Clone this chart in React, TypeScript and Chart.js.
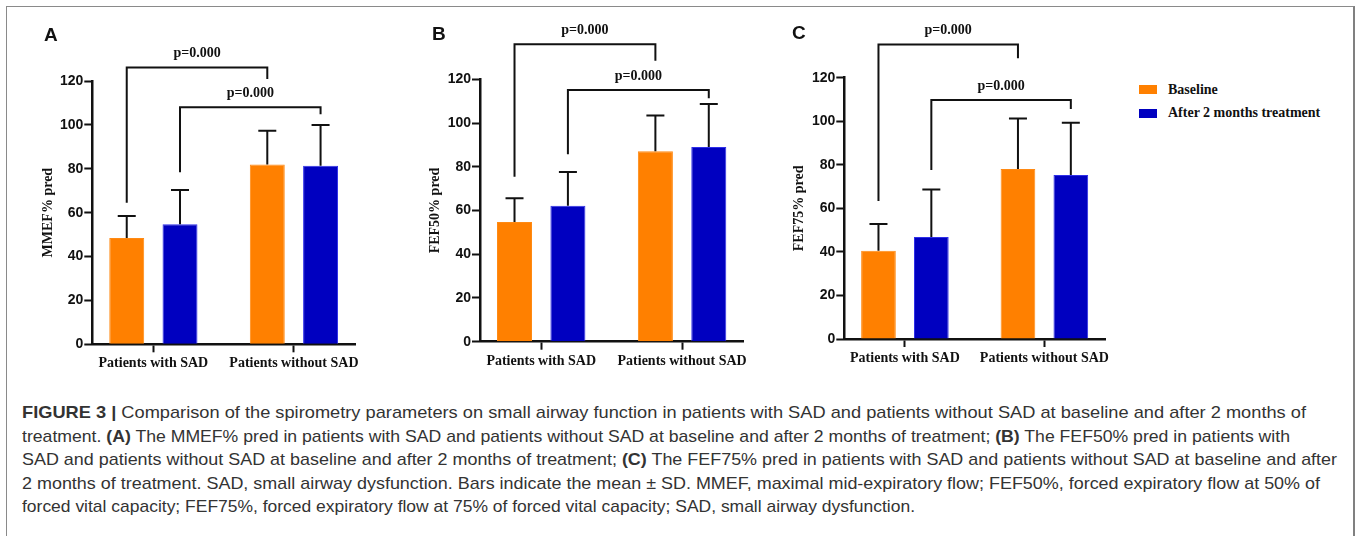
import React, { useEffect, useLayoutEffect, useRef } from 'react';
import { Chart, registerables } from 'chart.js';

Chart.register(...registerables);

// ---------------- data ----------------
const categories = ['Patients with SAD', 'Patients without SAD'];
const seriesLabels = ['Baseline', 'After 2 months treatment'];
const seriesColors = ['#FF8000', '#0000C0'];
const seriesBorders = ['#FF8A14', '#2F2FE8'];
const yTickValues = [0, 20, 40, 60, 80, 100, 120];
const pValueLabel = 'p=0.000';

const mmefBaseline = [48.5, 82.0];
const mmefBaselineSD = [10.0, 15.3];
const mmefTreated = [54.7, 81.4];
const mmefTreatedSD = [15.6, 18.5];
const mmefBracketLevels = [126.2, 108.0];
const mmefBracketLeftEnds = [64.5, 78.4];
const mmefBracketRightEnds = [120.9, 104.8];

const fef50Baseline = [54.7, 87.1];
const fef50BaselineSD = [10.9, 16.4];
const fef50Treated = [62.2, 89.0];
const fef50TreatedSD = [15.4, 19.7];
const fef50BracketLevels = [136.0, 115.1];
const fef50BracketLeftEnds = [75.4, 85.7];
const fef50BracketRightEnds = [128.5, 111.3];

const fef75Baseline = [40.5, 78.1];
const fef75BaselineSD = [12.3, 23.2];
const fef75Treated = [46.8, 75.3];
const fef75TreatedSD = [21.9, 24.0];
const fef75BracketLevels = [135.2, 109.8];
const fef75BracketLeftEnds = [63.4, 77.6];
const fef75BracketRightEnds = [128.9, 105.6];

const captionLines = [
  [{ b: true, t: 'FIGURE 3 |' }, { b: false, t: ' Comparison of the spirometry parameters on small airway function in patients with SAD and patients without SAD at baseline and after 2 months of' }],
  [{ b: false, t: 'treatment. ' }, { b: true, t: '(A)' }, { b: false, t: ' The MMEF% pred in patients with SAD and patients without SAD at baseline and after 2 months of treatment; ' }, { b: true, t: '(B)' }, { b: false, t: ' The FEF50% pred in patients with' }],
  [{ b: false, t: 'SAD and patients without SAD at baseline and after 2 months of treatment; ' }, { b: true, t: '(C)' }, { b: false, t: ' The FEF75% pred in patients with SAD and patients without SAD at baseline and after' }],
  [{ b: false, t: '2 months of treatment. SAD, small airway dysfunction. Bars indicate the mean \u00B1 SD. MMEF, maximal mid-expiratory flow; FEF50%, forced expiratory flow at 50% of' }],
  [{ b: false, t: 'forced vital capacity; FEF75%, forced expiratory flow at 75% of forced vital capacity; SAD, small airway dysfunction.' }],
];

// ---------------- styles ----------------
const SERIF = '"Liberation Serif", "Times New Roman", serif';
const SANS = '"Liberation Sans", Arial, Helvetica, sans-serif';
const INK = '#111111';
const captionWidths = [1284, 1268, 1315, 1298, 893];

type Geom = {
  x: number; w: number; h: number;
  areaLeft: number; areaRight: number; areaTop: number; areaBottom: number;
  titleX: number; letterX: number; letterY: number;
};

type PanelProps = {
  letter: string; yTitle: string;
  baseline: number[]; baselineSD: number[];
  treated: number[]; treatedSD: number[];
  levels: number[]; leftEnds: number[]; rightEnds: number[];
  g: Geom;
};

function Panel(props: PanelProps) {
  const ref = useRef<HTMLCanvasElement | null>(null);
  useEffect(() => {
    const { g } = props;
    const canvas = ref.current!;
    const sds = [props.baselineSD, props.treatedSD];
    const overlay = {
      id: 'overlay',
      afterDraw(chart: any) {
        const ctx = chart.ctx as CanvasRenderingContext2D;
        const ys = chart.scales.y;
        ctx.save();
        ctx.strokeStyle = INK;
        ctx.lineWidth = 2;
        chart.data.datasets.forEach((ds: any, di: number) => {
          const meta = chart.getDatasetMeta(di);
          meta.data.forEach((bar: any, i: number) => {
            const top = ys.getPixelForValue(ds.data[i].y + sds[di][i]);
            ctx.beginPath();
            ctx.moveTo(bar.x, bar.y);
            ctx.lineTo(bar.x, top);
            ctx.moveTo(bar.x - 9, top);
            ctx.lineTo(bar.x + 9, top);
            ctx.stroke();
          });
        });
        ctx.fillStyle = INK;
        ctx.font = `bold 14px ${SERIF}`;
        ctx.textAlign = 'center';
        ctx.textBaseline = 'middle';
        props.levels.forEach((lvl, s) => {
          const meta = chart.getDatasetMeta(s);
          const x1 = meta.data[0].x;
          const x2 = meta.data[1].x;
          const yl = ys.getPixelForValue(lvl);
          ctx.beginPath();
          ctx.moveTo(x1, ys.getPixelForValue(props.leftEnds[s]));
          ctx.lineTo(x1, yl);
          ctx.lineTo(x2, yl);
          ctx.lineTo(x2, ys.getPixelForValue(props.rightEnds[s]));
          ctx.stroke();
          ctx.fillText(pValueLabel, (x1 + x2) / 2, yl - 14);
        });
        ctx.font = `bold 19px ${SANS}`;
        ctx.textAlign = 'left';
        ctx.textBaseline = 'alphabetic';
        ctx.fillText(props.letter, g.letterX - g.x, g.letterY);
        ctx.restore();
      },
    };
    const barOpts = { borderWidth: 1, categoryPercentage: 0.758, barPercentage: 0.656 };
    const chart = new Chart(canvas, {
      type: 'bar',
      data: {
        datasets: [
          {
            label: seriesLabels[0],
            data: props.baseline.map((v, i) => ({ x: i, y: v })),
            backgroundColor: seriesColors[0],
            borderColor: seriesBorders[0],
            ...barOpts,
          },
          {
            label: seriesLabels[1],
            data: props.treated.map((v, i) => ({ x: i, y: v })),
            backgroundColor: seriesColors[1],
            borderColor: seriesBorders[1],
            ...barOpts,
          },
        ],
      } as any,
      options: {
        responsive: false,
        animation: false,
        devicePixelRatio: 1,
        layout: { padding: { top: g.areaTop, left: 0, right: g.w - (g.areaRight - g.x), bottom: 0 } },
        plugins: { legend: { display: false }, tooltip: { enabled: false } },
        scales: {
          x: {
            type: 'linear',
            offset: false,
            min: -0.4345,
            max: 1.4345,
            afterBuildTicks: (s: any) => { s.ticks = categories.map((_, i) => ({ value: i })); },
            afterFit: (s: any) => { s.height = g.h - g.areaBottom; },
            grid: { offset: false, drawOnChartArea: false, tickLength: 8, tickWidth: 2, tickColor: INK },
            border: { color: INK, width: 2.5 },
            ticks: {
              callback: (_v: any, i: number) => categories[i],
              font: { family: SERIF, weight: 'bold', size: 14 },
              color: INK,
              padding: 3,
              maxRotation: 0,
              autoSkip: false,
            },
          },
          y: {
            min: 0,
            max: 120,
            afterBuildTicks: (s: any) => { s.ticks = yTickValues.map((v) => ({ value: v })); },
            afterFit: (s: any) => { s.width = g.areaLeft - g.x; },
            grid: { drawOnChartArea: false, tickLength: 8, tickWidth: 2, tickColor: INK },
            border: { color: INK, width: 2.5 },
            ticks: {
              font: { family: SANS, weight: 'bold', size: 14 },
              color: INK,
              padding: 1,
            },
            title: {
              display: true,
              text: props.yTitle,
              font: { family: SERIF, weight: 'bold', size: 14 },
              color: INK,
              padding: { top: g.titleX - g.x - 8.4, bottom: 0 },
            },
          },
        },
      } as any,
      plugins: [overlay],
    });
    return () => chart.destroy();
  }, []);
  const { g } = props;
  return (
    <canvas
      ref={ref}
      width={g.w}
      height={g.h}
      style={{ position: 'absolute', left: g.x, top: 0, width: g.w, height: g.h }}
    />
  );
}

function CaptionLine({ segs, width }: { segs: { b: boolean; t: string }[]; width: number }) {
  const ref = useRef<HTMLDivElement | null>(null);
  useLayoutEffect(() => {
    const el = ref.current;
    if (!el) return;
    el.style.transform = 'none';
    const w = el.getBoundingClientRect().width;
    if (w > 0) el.style.transform = `scaleX(${width / w})`;
  }, [width]);
  return (
    <div style={{ height: 23.6 }}>
      <div ref={ref} style={{ display: 'inline-block', whiteSpace: 'nowrap', transformOrigin: '0 0' }}>
        {segs.map((seg, si) => (
          <span key={si} style={{ fontWeight: seg.b ? 'bold' : 'normal' }}>{seg.t}</span>
        ))}
      </div>
    </div>
  );
}

const geomA: Geom = { x: 20, w: 380, h: 380, areaLeft: 92.3, areaRight: 355, areaTop: 81, areaBottom: 344.3, titleX: 48.3, letterX: 44, letterY: 40.5 };
const geomB: Geom = { x: 410, w: 370, h: 380, areaLeft: 480, areaRight: 743.3, areaTop: 79.3, areaBottom: 341.7, titleX: 435.8, letterX: 432, letterY: 39.5 };
const geomC: Geom = { x: 780, w: 340, h: 380, areaLeft: 844.3, areaRight: 1105, areaTop: 77.7, areaBottom: 339, titleX: 799, letterX: 792, letterY: 38.5 };

export default function App() {
  return (
    <div style={{ position: 'absolute', left: 0, top: 0, width: 1357, height: 536, background: '#fff', overflow: 'hidden' }}>
      <div style={{ position: 'absolute', left: 6, top: 6, width: 1346, height: 600, borderLeft: '1.5px solid #8a8a8a', borderTop: '1.5px solid #8a8a8a', borderRight: '2px solid #808080' }} />
      <Panel letter="A" yTitle="MMEF% pred" baseline={mmefBaseline} baselineSD={mmefBaselineSD} treated={mmefTreated} treatedSD={mmefTreatedSD}
        levels={mmefBracketLevels} leftEnds={mmefBracketLeftEnds} rightEnds={mmefBracketRightEnds} g={geomA} />
      <Panel letter="B" yTitle="FEF50% pred" baseline={fef50Baseline} baselineSD={fef50BaselineSD} treated={fef50Treated} treatedSD={fef50TreatedSD}
        levels={fef50BracketLevels} leftEnds={fef50BracketLeftEnds} rightEnds={fef50BracketRightEnds} g={geomB} />
      <Panel letter="C" yTitle="FEF75% pred" baseline={fef75Baseline} baselineSD={fef75BaselineSD} treated={fef75Treated} treatedSD={fef75TreatedSD}
        levels={fef75BracketLevels} leftEnds={fef75BracketLeftEnds} rightEnds={fef75BracketRightEnds} g={geomC} />
      {seriesLabels.map((lab, i) => (
        <React.Fragment key={lab}>
          <div style={{ position: 'absolute', left: 1139, top: i === 0 ? 85 : 108.5, width: 18, height: 9, background: seriesColors[i] }} />
          <div style={{ position: 'absolute', left: 1168, top: (i === 0 ? 90 : 112.7) - 10, height: 20, lineHeight: '20px', fontFamily: SERIF, fontWeight: 'bold', fontSize: 14, color: INK, whiteSpace: 'nowrap' }}>{lab}</div>
        </React.Fragment>
      ))}
      <div style={{ position: 'absolute', left: 22, top: 401, fontFamily: SANS, fontSize: 17, lineHeight: '23.6px', color: '#333' }}>
        {captionLines.map((line, li) => (
          <CaptionLine key={li} segs={line} width={captionWidths[li]} />
        ))}
      </div>
    </div>
  );
}
